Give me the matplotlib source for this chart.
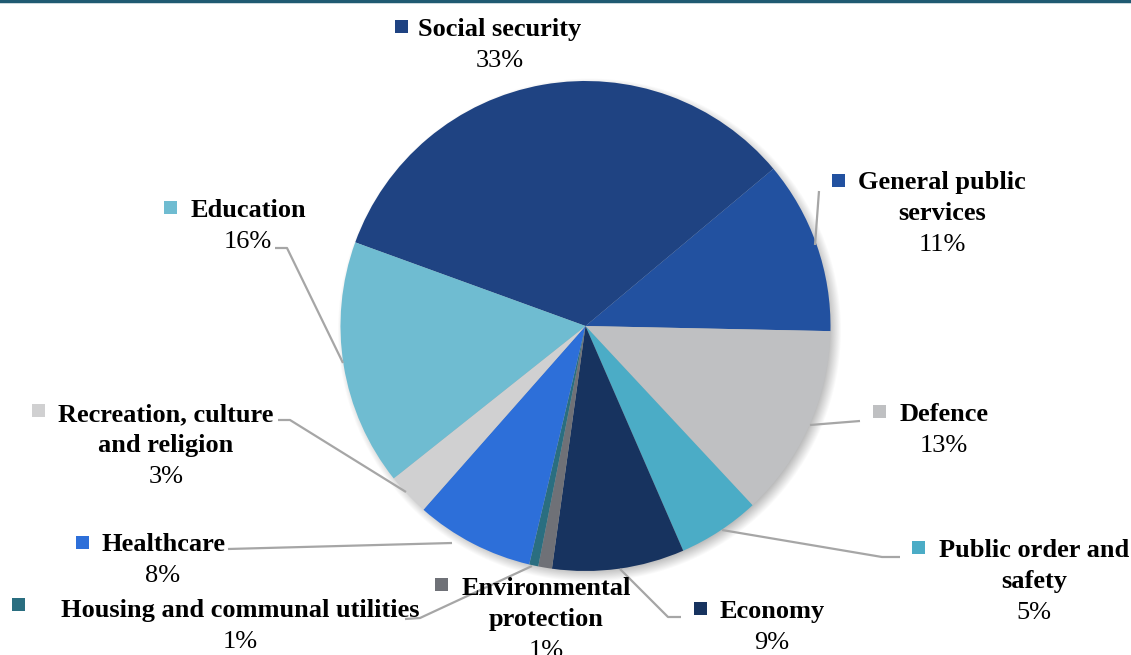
import numpy as np
import matplotlib
matplotlib.use("Agg")
import matplotlib.pyplot as plt

plt.rcParams['font.family'] = ['Liberation Serif', 'DejaVu Serif']

# spending shares, clockwise from the top-left edge of the first slice
categories = ["Social security", "General public\nservices", "Defence",
              "Public order and\nsafety", "Economy", "Environmental\nprotection",
              "Housing and communal utilities", "Healthcare",
              "Recreation, culture\nand religion", "Education"]
values = [33.3, 11.4, 12.7, 5.4, 8.7, 0.9, 0.6, 7.8, 2.8, 16.2]
colors = ["#1f4382", "#2251a0", "#bfc0c2", "#4bacc6", "#17335f",
          "#6f7177", "#2a6e80", "#2d6fd9", "#d0d0d1", "#6fbcd1"]

W, H = 1131, 655
CX, CY, R = 585.5, 326, 245

# label placement in pixels: text centre x, first baseline, marker centre (x, y)
layout = [
    (500, 36, 401, 26),
    (942, 189, 838, 180),
    (944, 421, 879, 411),
    (1034, 557, 918, 547),
    (772, 618, 700, 608),
    (546, 595, 441, 584),
    (240, 617, 18, 604),
    (163, 551, 82, 542),
    (166, 421, 38, 410),
    (248, 217, 170, 207),
]
# leader lines (pixel coords), from label to slice edge
leaders = [
    None,
    [(819, 191), (815, 245)],
    [(860, 421), (810, 425)],
    [(900, 557), (882, 557), (722, 530)],
    [(681, 617), (668, 617), (620, 569)],
    None,
    [(405, 619), (420, 618), (532, 566)],
    [(228, 549), (452, 543)],
    [(278, 420), (290, 420), (406, 492)],
    [(275, 248), (287, 248), (343, 363)],
]


def py(y):
    return H - y


fig = plt.figure(figsize=(W / 100, H / 100), dpi=100)
ax = fig.add_axes([0, 0, 1, 1])

# soft drop shadow under the pie
gx, gy = np.meshgrid(np.arange(W) + 0.5, np.arange(H) + 0.5)
d = np.hypot(gx - (CX + 4), gy - (CY + 4))
alpha = 0.30 * np.clip((R + 7 - d) / 14, 0, 1)
shadow = np.zeros((H, W, 4))
shadow[..., 3] = alpha
ax.imshow(shadow, extent=(0, W, 0, H), origin="upper", zorder=0)

total = sum(values)
ax.pie(values, colors=colors, startangle=160.04, counterclock=False,
       center=(CX, py(CY)), radius=R, wedgeprops=dict(linewidth=0))

step = 31
for name, v, col, (tx, ty, mx, my), lead in zip(categories, values, colors, layout, leaders):
    lines = name.split("\n")
    for i, ln in enumerate(lines):
        ax.text(tx, py(ty + i * step), ln, ha="center", va="baseline",
                fontsize=19, fontweight="bold", color="#000000", zorder=5)
    ax.text(tx, py(ty + len(lines) * step), f"{round(v / total * 100)}%",
            ha="center", va="baseline", fontsize=19, color="#000000", zorder=5)
    ax.add_patch(plt.Rectangle((mx - 6.5, py(my) - 6.5), 13, 13, color=col,
                               linewidth=0, zorder=5))
    if lead:
        xs = [p[0] for p in lead]
        ys = [py(p[1]) for p in lead]
        ax.plot(xs, ys, color="#a6a6a6", linewidth=1.6, zorder=4,
                solid_capstyle="butt")

# thin rule along the top edge
ax.plot([0, W], [H - 1, H - 1], color="#1f5a72", linewidth=2.5, zorder=6)

ax.set_xlim(0, W)
ax.set_ylim(0, H)
ax.set_aspect("equal")
ax.axis("off")

fig.savefig("out.png", dpi=100, facecolor="white")
